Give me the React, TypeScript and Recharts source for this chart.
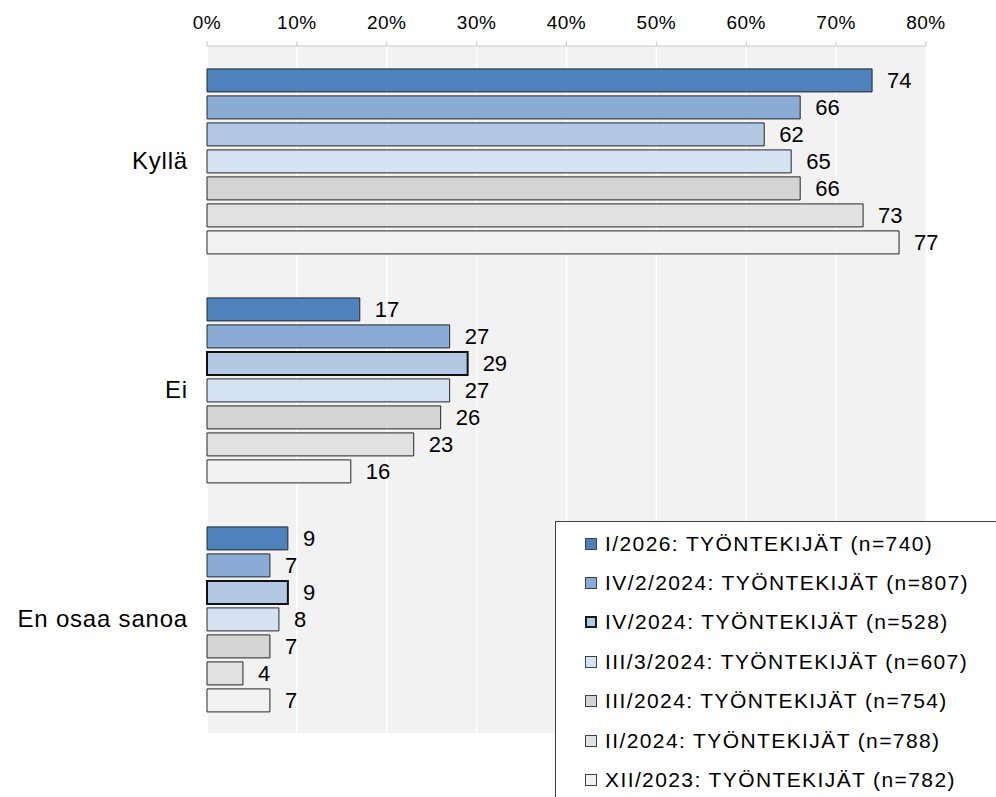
import React from 'react';
import { BarChart, Bar, XAxis, YAxis, CartesianGrid, LabelList, Cell } from 'recharts';

// Answer categories (top to bottom)
const categories = ['Kyllä', 'Ei', 'En osaa sanoa'];

// Survey rounds, same order as the bars inside each category
const seriesNames = [
  'I/2026: TYÖNTEKIJÄT (n=740)',
  'IV/2/2024: TYÖNTEKIJÄT (n=807)',
  'IV/2024: TYÖNTEKIJÄT (n=528)',
  'III/3/2024: TYÖNTEKIJÄT (n=607)',
  'III/2024: TYÖNTEKIJÄT (n=754)',
  'II/2024: TYÖNTEKIJÄT (n=788)',
  'XII/2023: TYÖNTEKIJÄT (n=782)',
];

// percent values per series: [Kyllä, Ei, En osaa sanoa]
const i2026 = [74, 17, 9];
const iv2_2024 = [66, 27, 7];
const iv2024 = [62, 29, 9];
const iii3_2024 = [65, 27, 8];
const iii2024 = [66, 26, 7];
const ii2024 = [73, 23, 4];
const xii2023 = [77, 16, 7];

const xTicks = [0, 10, 20, 30, 40, 50, 60, 70, 80];

const seriesValues = [i2026, iv2_2024, iv2024, iii3_2024, iii2024, ii2024, xii2023];
const fills = ['#4f81bd', '#8aabd5', '#b2c8e3', '#d5e2f1', '#d4d4d4', '#e1e1e1', '#f2f2f2'];
// the IV/2024 bars carry a heavier outline except in the first group
const heavy = (si: number, ci: number) => si === 2 && ci > 0;

const FONT = '"Liberation Sans", Arial, sans-serif';

const chartData = categories.map((c, ci) => {
  const row: Record<string, string | number> = { category: c };
  seriesValues.forEach((vals, si) => {
    row['s' + si] = vals[ci];
  });
  return row;
});

const LegendBox: React.FC = () => (
  <div style={styles.legend}>
    {seriesNames.map((name, i) => (
      <div key={name} style={styles.legendRow}>
        <span
          style={{
            ...styles.legendMarker,
            background: fills[i],
            border: i === 2 ? '2px solid #1a1a1a' : '1px solid #404040',
            width: i === 2 ? 8 : 10,
            height: i === 2 ? 8 : 10,
          }}
        />
        <span>{name}</span>
      </div>
    ))}
  </div>
);

export default function App() {
  return (
    <div style={styles.page}>
      <BarChart
        width={996}
        height={797}
        data={chartData}
        layout="vertical"
        margin={{ top: 0, right: 70, bottom: 64, left: 7 }}
        barCategoryGap="10%"
        barGap={4}
      >
        <CartesianGrid horizontal={false} stroke="#ffffff" strokeWidth={1.5} fill="#f2f2f2" />
        <XAxis
          type="number"
          orientation="top"
          domain={[0, 80]}
          ticks={xTicks}
          tickFormatter={(v: number) => `${v}%`}
          height={46}
          stroke="#c8c8c8"
          tickSize={5}
          tickMargin={12}
          tick={{ fontSize: 19, fill: '#000', fontFamily: FONT, letterSpacing: 0.5 }}
          interval={0}
        />
        <YAxis
          type="category"
          dataKey="category"
          width={200}
          axisLine={false}
          tickLine={false}
          tickSize={0}
          tickMargin={19}
          tick={{ fontSize: 24, fill: '#000', fontFamily: FONT, letterSpacing: 0.8 }}
        />
        {seriesNames.map((name, si) => (
          <Bar
            key={name}
            dataKey={'s' + si}
            name={name}
            fill={fills[si]}
            stroke="#262626"
            strokeWidth={1}
            isAnimationActive={false}
          >
            {categories.map((c, ci) => (
              <Cell
                key={c}
                fill={fills[si]}
                stroke={heavy(si, ci) ? '#111111' : '#262626'}
                strokeWidth={heavy(si, ci) ? 2 : 1}
              />
            ))}
            <LabelList
              dataKey={'s' + si}
              position="right"
              offset={15}
              style={{ fontSize: 22, fill: '#000', fontFamily: FONT }}
            />
          </Bar>
        ))}
      </BarChart>
      <LegendBox />
    </div>
  );
}

const styles = {
  page: {
    position: 'absolute',
    left: 0,
    top: 0,
    width: 996,
    height: 797,
    overflow: 'hidden',
    background: '#ffffff',
    fontFamily: FONT,
  } as React.CSSProperties,
  legend: {
    position: 'absolute',
    left: 555,
    top: 521,
    width: 460,
    height: 300,
    background: '#ffffff',
    border: '1px solid #404040',
    boxSizing: 'border-box',
    paddingTop: 2,
    paddingLeft: 29,
  } as React.CSSProperties,
  legendRow: {
    display: 'flex',
    alignItems: 'center',
    height: 39.4,
    fontSize: 21,
    letterSpacing: 1.4,
    color: '#000',
    whiteSpace: 'nowrap',
  } as React.CSSProperties,
  legendMarker: {
    display: 'inline-block',
    marginRight: 8,
    boxSizing: 'content-box',
  } as React.CSSProperties,
};
